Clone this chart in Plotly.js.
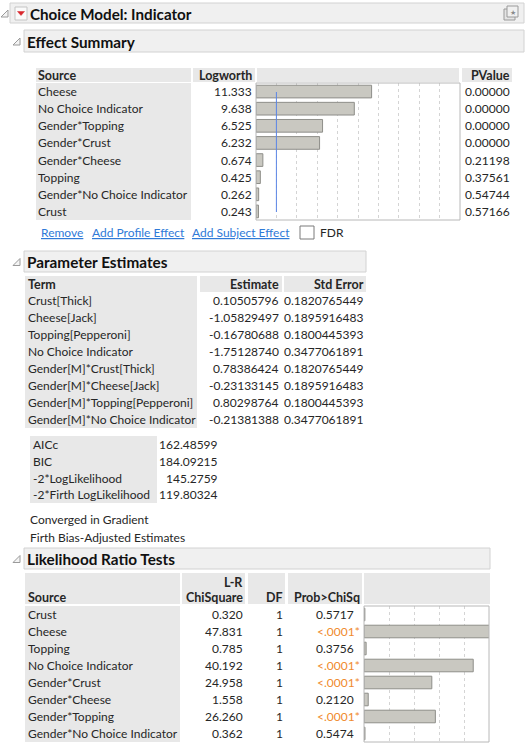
<!DOCTYPE html>
<html><head><meta charset="utf-8">
<script src="https://cdn.plot.ly/plotly-3.0.1.min.js"></script>
<style>html,body{margin:0;padding:0;background:#fff}#chart{width:526px;height:744px}</style>
</head><body><div id="chart"></div>
<script>
// ---------- data ----------
const effSources = ["Cheese","No Choice Indicator","Gender*Topping","Gender*Crust","Gender*Cheese","Topping","Gender*No Choice Indicator","Crust"];
const effLogworth = [11.333,9.638,6.525,6.232,0.674,0.425,0.262,0.243];
const effPValue = [0.00000,0.00000,0.00000,0.00000,0.21198,0.37561,0.54744,0.57166];

const paramTerms = ["Crust[Thick]","Cheese[Jack]","Topping[Pepperoni]","No Choice Indicator","Gender[M]*Crust[Thick]","Gender[M]*Cheese[Jack]","Gender[M]*Topping[Pepperoni]","Gender[M]*No Choice Indicator"];
const paramEstimate = [0.10505796,-1.05829497,-0.16780688,-1.75128740,0.78386424,-0.23133145,0.80298764,-0.21381388];
const paramStdError = [0.1820765449,0.1895916483,0.1800445393,0.3477061891,0.1820765449,0.1895916483,0.1800445393,0.3477061891];

const fitStats = ["AICc","BIC","-2*LogLikelihood","-2*Firth LogLikelihood"];
const fitValues = [162.48599,184.09215,145.2759,119.80324];
const fitNotes = ["Converged in Gradient","Firth Bias-Adjusted Estimates"];

const lrtSources = ["Crust","Cheese","Topping","No Choice Indicator","Gender*Crust","Gender*Cheese","Gender*Topping","Gender*No Choice Indicator"];
const lrtChiSquare = [0.320,47.831,0.785,40.192,24.958,1.558,26.260,0.362];
const lrtDF = [1,1,1,1,1,1,1,1];
const lrtProb = ["0.5717","<.0001*","0.3756","<.0001*","<.0001*","0.2120","<.0001*","0.5474"];

const links = ["Remove","Add Profile Effect","Add Subject Effect"];

// ---------- layout helpers ----------
const W = 526, H = 744;
const FONT = "Lato, 'Noto Sans', sans-serif";
const TXT = '#262626';
const GRAY = '#e8e8e8';
const ann = [], shp = [];
function txt(x, y, t, o) {
  o = o || {};
  ann.push({xref:'x', yref:'y', x:x, y:y, text:t, showarrow:false,
    xanchor:o.a || 'left', yanchor:'middle', borderpad:0, borderwidth:0,
    font:{family:FONT, size:o.s || 12, color:o.c || TXT, weight:o.w || 'normal',
          lineposition:o.u ? 'under' : 'none'}});
}
function rect(x0, y0, x1, y1, fill, line, layer) {
  shp.push({type:'rect', xref:'x', yref:'y', x0:x0, y0:y0, x1:x1, y1:y1,
    fillcolor:fill || 'rgba(0,0,0,0)', line:{color:line || 'rgba(0,0,0,0)', width:line ? 1 : 0},
    layer:layer || 'below'});
}
function sectionHeader(x0, x1, y0, y1, title, size) {
  rect(x0, y0, x1, y1, '#f0f0f0', '#d2d2d2');
  txt(x0 + 3, (y0 + y1) / 2 + 0.5, title, {w:'bold', s:size || 15.3, c:'#111'});
  // collapse triangle
  shp.push({type:'path', xref:'x', yref:'y',
    path:`M ${x0-4} ${(y0+y1)/2-3} L ${x0-4} ${(y0+y1)/2+4} L ${x0-11} ${(y0+y1)/2+4} Z`,
    fillcolor:'#f4f4f4', line:{color:'#9a9a9a', width:1}, layer:'above'});
}

// ---------- top header ----------
rect(10, 3, 524, 23, '#f0f0f0', '#d2d2d2');
shp.push({type:'path', xref:'x', yref:'y', path:'M 8 10 L 8 17 L 1 17 Z',
  fillcolor:'#f4f4f4', line:{color:'#9a9a9a', width:1}, layer:'above'});
rect(15, 7, 27, 20, '#fafafa', '#c4c4c4', 'above');
shp.push({type:'path', xref:'x', yref:'y', path:'M 17.5 11.5 L 24.5 11.5 L 21 15.5 Z',
  fillcolor:'#d8262c', line:{color:'#d8262c', width:0.5}, layer:'above'});
txt(30, 13.5, 'Choice Model: Indicator', {w:'bold', s:15.2, c:'#111'});
rect(504, 9, 515, 20, '#e4e4e4', '#9a9a9a', 'above');
rect(507, 6, 518, 17, '#f0f0f0', '#9a9a9a', 'above');
txt(512.5, 11.5, '★', {a:'center', s:7, c:'#8a8a8a'});

// ---------- Effect Summary ----------
sectionHeader(24, 524, 30, 52, 'Effect Summary');
rect(36, 68, 191, 82, GRAY);
rect(193, 68, 255, 82, GRAY);
rect(257, 68, 459, 82, GRAY);
rect(462, 68, 512, 82, GRAY);
rect(36, 83, 191, 220, GRAY);
txt(38, 75, 'Source', {w:'bold', s:12.5});
txt(252, 75, 'Logworth', {w:'bold', a:'right', s:12.5});
txt(510, 75, 'PValue', {w:'bold', a:'right', s:12.5});
const effRowH = (220 - 83) / effSources.length;
effSources.forEach((s, i) => {
  const y = 83 + effRowH * (i + 0.5);
  txt(38, y, s);
  txt(252, y, effLogworth[i].toFixed(3), {a:'right'});
  txt(510, y, effPValue[i].toFixed(5), {a:'right'});
});
rect(256, 83, 460, 220, null, '#b8b8b8', 'above');
// reference line at logworth 2
shp.push({type:'line', xref:'x2', yref:'y', x0:2, x1:2, y0:92, y1:212,
  line:{color:'#5b86e6', width:1}, layer:'above'});
// links + FDR checkbox
const linkX = [41, 92, 192];
links.forEach((l, i) => txt(linkX[i], 232, l, {c:'#2f7ad8', u:true}));
rect(300, 226, 314, 239, '#ffffff', '#7a7a7a', 'above');
txt(320, 232, 'FDR');

// ---------- Parameter Estimates ----------
sectionHeader(24, 366, 251, 272, 'Parameter Estimates');
rect(25, 276, 197, 292, GRAY);
rect(200, 276, 282, 292, GRAY);
rect(284, 276, 366, 292, GRAY);
rect(25, 292, 197, 428, GRAY);
txt(28, 284, 'Term', {w:'bold', s:12.5});
txt(279, 284, 'Estimate', {w:'bold', a:'right', s:12.5});
txt(364, 284, 'Std Error', {w:'bold', a:'right', s:12.5});
paramTerms.forEach((t, i) => {
  const y = 292 + 17 * (i + 0.5);
  txt(28, y, t);
  txt(279, y, paramEstimate[i].toFixed(8), {a:'right'});
  txt(363, y, paramStdError[i].toFixed(10), {a:'right'});
});

// fit statistics
rect(30, 436, 157, 503, GRAY);
fitStats.forEach((s, i) => {
  const y = 436 + 16.8 * (i + 0.5);
  txt(33, y, s);
  txt(218, y, String(fitValues[i]), {a:'right'});
});
fitNotes.forEach((n, i) => txt(30, 519 + 18 * i, n));

// ---------- Likelihood Ratio Tests ----------
sectionHeader(24, 490, 548, 569, 'Likelihood Ratio Tests');
rect(25, 573, 180, 604, GRAY);
rect(182, 573, 245, 604, GRAY);
rect(248, 573, 285, 604, GRAY);
rect(288, 573, 362, 604, GRAY);
rect(364, 573, 490, 604, GRAY);
rect(25, 606, 180, 742, GRAY);
txt(28, 597, 'Source', {w:'bold', s:12.5});
txt(243, 582, 'L-R', {w:'bold', a:'right', s:12.5});
txt(243, 597, 'ChiSquare', {w:'bold', a:'right', s:12.5});
txt(283, 597, 'DF', {w:'bold', a:'right', s:12.5});
txt(360, 597, 'Prob>ChiSq', {w:'bold', a:'right', s:12.5});
lrtSources.forEach((s, i) => {
  const y = 606 + 17 * (i + 0.5);
  txt(28, y, s);
  txt(243, y, lrtChiSquare[i].toFixed(3), {a:'right'});
  txt(283, y, String(lrtDF[i]), {a:'right'});
  const sig = lrtProb[i].indexOf('*') >= 0;
  txt(sig ? 360 : 354, y, lrtProb[i], {a:'right', c: sig ? '#f08a2e' : TXT});
});
rect(364, 606, 489, 742, null, '#b8b8b8', 'above');

// ---------- traces ----------
const barMarker = {color:'#c9c8c1', line:{color:'#8e8e89', width:1}};
const data = [
  {type:'scatter', x:[], y:[], xaxis:'x', yaxis:'y', hoverinfo:'skip', showlegend:false},
  {type:'bar', orientation:'h', x:effLogworth, y:effSources, xaxis:'x2', yaxis:'y2',
   marker:barMarker, width:0.74, hoverinfo:'skip', showlegend:false},
  {type:'bar', orientation:'h', x:lrtChiSquare, y:lrtSources, xaxis:'x3', yaxis:'y3',
   marker:barMarker, width:0.74, hoverinfo:'skip', showlegend:false}
];

const hiddenCat = (dom, anchor, cats) => ({domain:dom, anchor:anchor, type:'category',
  categoryorder:'array', categoryarray:cats, range:[cats.length - 0.5, -0.5],
  showticklabels:false, showgrid:false, zeroline:false, showline:false, ticks:'', fixedrange:true});
const gridAxis = (dom, anchor, range, dtick) => ({domain:dom, anchor:anchor, range:range,
  tick0:0, dtick:dtick, showgrid:true, gridcolor:'#d4d4d4', griddash:'dot', gridwidth:1,
  showticklabels:false, zeroline:false, showline:false, ticks:'', fixedrange:true});

const layout = {
  width:W, height:H, margin:{l:0, r:0, t:0, b:0},
  paper_bgcolor:'#ffffff', plot_bgcolor:'rgba(0,0,0,0)',
  showlegend:false, bargap:0,
  xaxis:{domain:[0,1], range:[0,W], visible:false, fixedrange:true},
  yaxis:{domain:[0,1], range:[H,0], visible:false, fixedrange:true},
  xaxis2:gridAxis([256/W, 460/W], 'y2', [0,20], 2),
  yaxis2:hiddenCat([1 - 220/H, 1 - 83/H], 'x2', effSources),
  xaxis3:gridAxis([364/W, 489/W], 'y3', [0,46], 9.2),
  yaxis3:hiddenCat([1 - 742/H, 1 - 606/H], 'x3', lrtSources),
  annotations:ann, shapes:shp
};
Plotly.newPlot('chart', data, layout, {staticPlot:true, displayModeBar:false});
</script>
</body></html>
